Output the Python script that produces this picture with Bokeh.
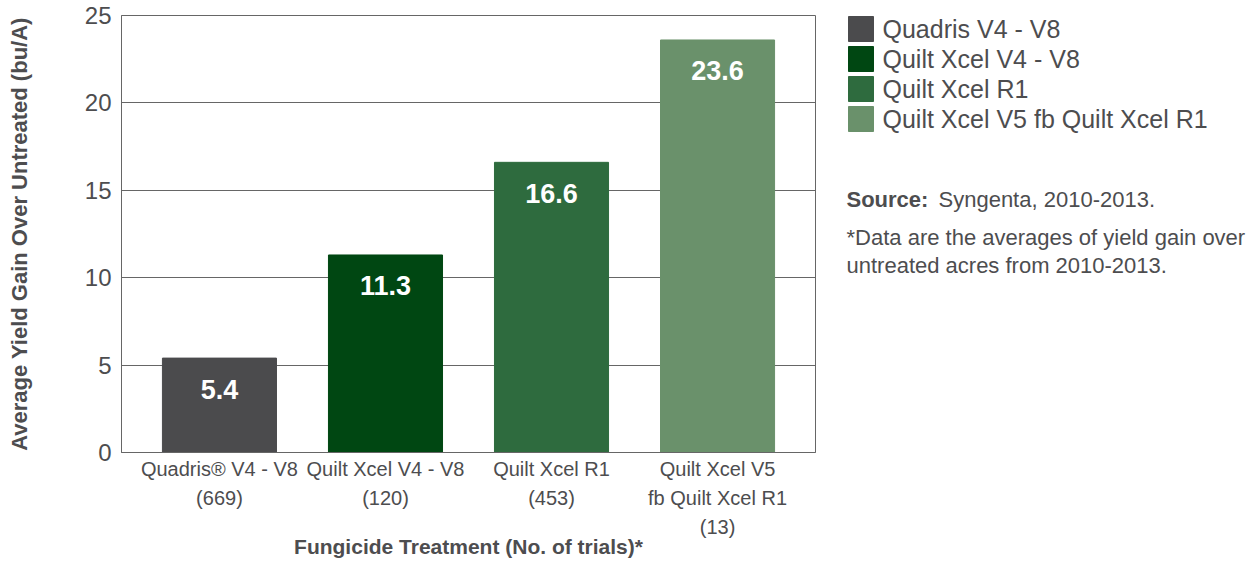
from bokeh.plotting import figure
from bokeh.layouts import row
from bokeh.models import Range1d, FixedTicker, ColumnDataSource
from bokeh.core.properties import value
from bokeh.embed import file_html
from bokeh.resources import INLINE

# ---- data ----
categories = ["Quadris V4 - V8", "Quilt Xcel V4 - V8", "Quilt Xcel R1", "Quilt Xcel V5 fb Quilt Xcel R1"]
tick_labels = ["Quadris\u00ae V4 - V8\n(669)", "Quilt Xcel V4 - V8\n(120)", "Quilt Xcel R1\n(453)",
               "Quilt Xcel V5\nfb Quilt Xcel R1\n(13)"]
yield_gain = [5.4, 11.3, 16.6, 23.6]
value_labels = ["5.4", "11.3", "16.6", "23.6"]
colors = ["#4b4b4d", "#004712", "#2e6b3e", "#6a916b"]
y_ticks = [0, 5, 10, 15, 20, 25]

FONT = "Liberation Sans"
TXT = "#4d4d4f"

TOP, BOTTOM = 15, 129

xs = list(range(1, len(categories) + 1))
src = ColumnDataSource(dict(x=xs, top=yield_gain, color=colors, lab=value_labels))

p = figure(width=830, height=581, output_backend="svg", toolbar_location=None,
           x_range=Range1d(0.41, 4.59), y_range=Range1d(0, 25),
           min_border_left=121, min_border_right=15, min_border_top=TOP, min_border_bottom=BOTTOM)
p.outline_line_color = "#666666"
p.outline_line_width = 1

p.vbar(x="x", top="top", bottom=0, width=0.687, color="color", source=src)
p.text(x="x", y="top", text="lab", source=src, text_color="white", text_font=value(FONT),
       text_font_style="bold", text_font_size="27px", text_align="center",
       text_baseline="middle", y_offset=31)

# y axis
p.yaxis.ticker = FixedTicker(ticks=y_ticks)
p.yaxis.major_label_text_font = FONT
p.yaxis.major_label_text_font_size = "24px"
p.yaxis.major_label_text_color = TXT
p.yaxis.major_tick_line_color = None
p.yaxis.minor_tick_line_color = None
p.yaxis.major_tick_out = 0
p.yaxis.major_label_standoff = 10
p.yaxis.axis_line_color = "#666666"
p.yaxis.axis_label = "Average Yield Gain Over Untreated (bu/A)"
p.yaxis.axis_label_text_font = FONT
p.yaxis.axis_label_text_font_style = "bold"
p.yaxis.axis_label_text_font_size = "22px"
p.yaxis.axis_label_text_color = TXT
p.yaxis.axis_label_standoff = 50

# x axis
p.xaxis.ticker = FixedTicker(ticks=xs)
p.xaxis.major_label_overrides = {x: t for x, t in zip(xs, tick_labels)}
p.xaxis.major_label_text_font = FONT
p.xaxis.major_label_text_font_size = "20px"
p.xaxis.major_label_text_color = TXT
p.xaxis.major_label_text_line_height = 1.33
p.xaxis.major_tick_line_color = None
p.xaxis.minor_tick_line_color = None
p.xaxis.major_tick_out = 0
p.xaxis.major_label_standoff = 5
p.xaxis.axis_line_color = "#666666"
p.xaxis.axis_label = "Fungicide Treatment (No. of trials)*"
p.xaxis.axis_label_text_font = FONT
p.xaxis.axis_label_text_font_style = "bold"
p.xaxis.axis_label_text_font_size = "21px"
p.xaxis.axis_label_text_color = TXT
p.xaxis.axis_label_standoff = -6

p.xgrid.grid_line_color = None
p.ygrid.grid_line_color = "#666666"
p.ygrid.ticker = FixedTicker(ticks=y_ticks)

# ---- right panel: legend and notes (screen-like coordinates) ----
q = figure(width=428, height=581, output_backend="svg", toolbar_location=None,
           x_range=Range1d(0, 428), y_range=Range1d(581 - BOTTOM, TOP),
           min_border_left=0, min_border_right=0, min_border_top=TOP, min_border_bottom=BOTTOM)
q.axis.visible = False
q.grid.visible = False
q.outline_line_color = None

n = len(categories)
row_y = [28.5 + 30 * i for i in range(n)]
q.rect(x=[30.5] * n, y=row_y, width=25, height=25, color=colors)
q.text(x=[52] * n, y=row_y, text=categories, text_font=value(FONT), text_font_size="25px",
       text_color=TXT, text_baseline="middle")

q.text(x=[16], y=[199], text=["Source:"], text_font=value(FONT), text_font_style="bold",
       text_font_size="22px", text_color=TXT, text_baseline="middle")
q.text(x=[108], y=[199], text=["Syngenta, 2010-2013."], text_font=value(FONT),
       text_font_size="22px", text_color=TXT, text_baseline="middle")
q.text(x=[16, 16], y=[237, 265],
       text=["*Data are the averages of yield gain over", "untreated acres from 2010-2013."],
       text_font=value(FONT), text_font_size="22px", text_color=TXT, text_baseline="middle")

layout = row(p, q, spacing=0)
open("out.html", "w").write(file_html(layout, INLINE))
